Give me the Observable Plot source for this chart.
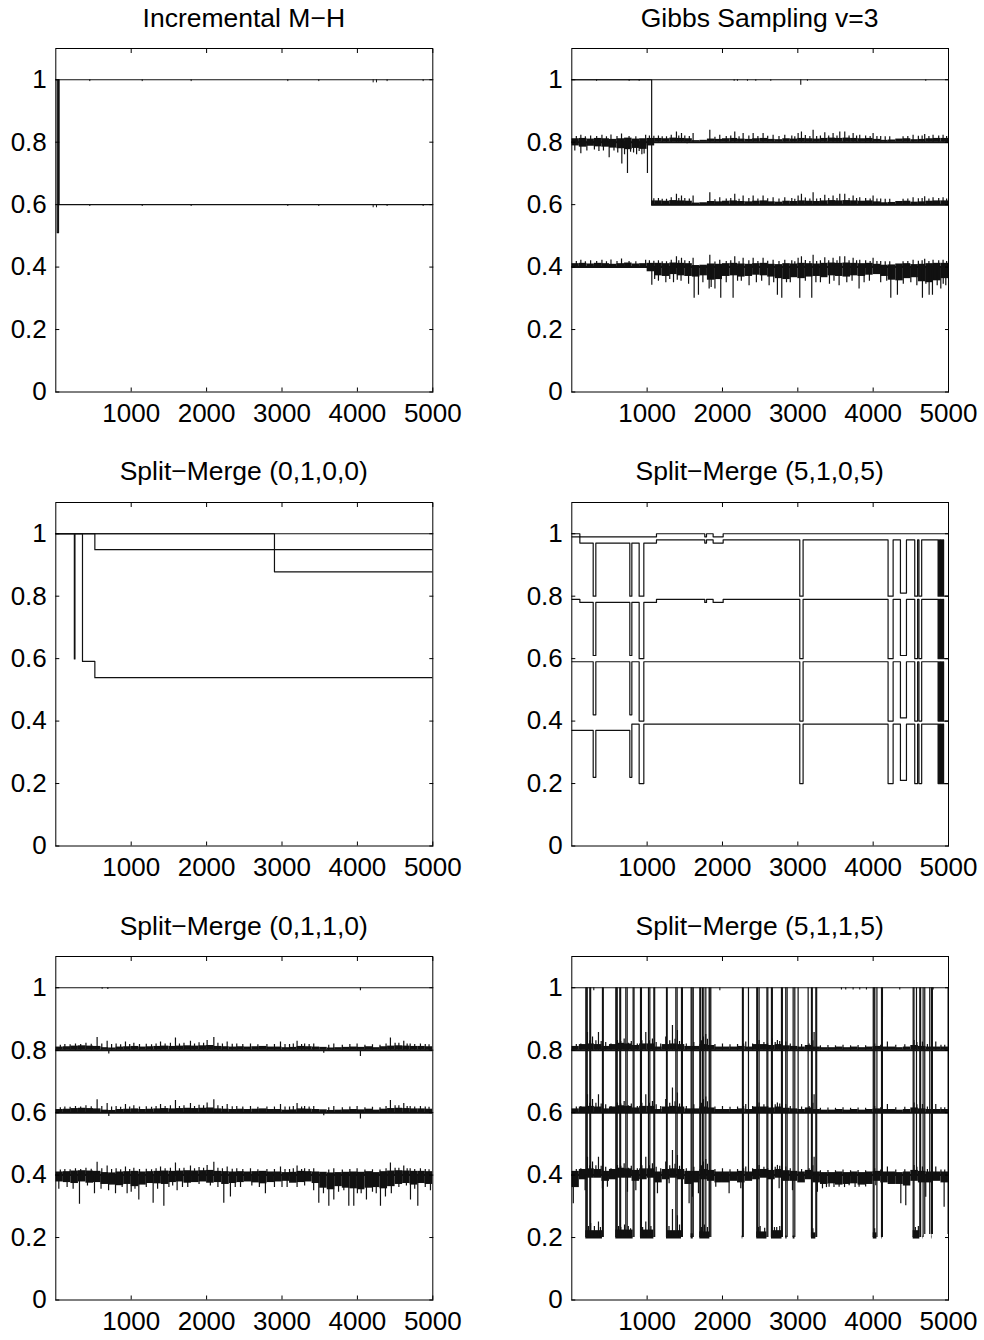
<!DOCTYPE html>
<html><head><meta charset="utf-8">
<script src="https://cdn.jsdelivr.net/npm/d3@7"></script>
<script src="https://cdn.jsdelivr.net/npm/@observablehq/plot@0.6"></script>
<style>
html,body{margin:0;padding:0;background:#fff;}
#page{position:relative;width:984px;height:1340px;overflow:hidden;background:#fff;font-family:"Liberation Sans",Arial,Helvetica,sans-serif;}
.title{position:absolute;font-size:26.5px;line-height:26.5px;text-align:center;color:#000;white-space:nowrap;}
.panel{position:absolute;width:492px;}
</style></head>
<body><div id="page"></div>
<script>
// ---------- axis / titles ----------
const xTicks = [1000, 2000, 3000, 4000, 5000];
const yTicks = [0, 0.2, 0.4, 0.6, 0.8, 1];
const panelTitles = ["Incremental M\u2212H", "Gibbs Sampling v=3", "Split\u2212Merge (0,1,0,0)", "Split\u2212Merge (5,1,0,5)", "Split\u2212Merge (0,1,1,0)", "Split\u2212Merge (5,1,1,5)"];

// ---------- Incremental M-H ----------
const mhSeriesA = [[0, 1], [5000, 1]];
const mhSeriesB = [[0, 1], [19, 0.51], [36, 1], [44, 0.6], [5000, 0.6]];
const mhDips = [[451, 0.006], [1146, 0.006], [1795, 0.006], [3077, 0.006], [3488, 0.006], [4209, 0.01], [4253, 0.01], [4394, 0.006], [4872, 0.006]];

// ---------- Gibbs Sampling v=3 ----------
const gibbsTop = [[0, 1], [5000, 1]];
const gibbsSwitch = [[0, 1], [1060, 0.6], [5000, 0.6]];
const gibbsTopDips = [[328, 0.995], [761, 0.995], [894, 0.995], [2155, 0.995], [2199, 0.995], [2332, 0.995], [2442, 0.995], [2641, 0.995], [3039, 0.982], [3128, 0.995], [4698, 0.995]];
const gibbsUpCore = [
  0.011, 0.012, 0.010, 0.012, 0.011, 0.009, 0.011, 0.013, 0.010, 0.011,
  0.012, 0.012, 0.011, 0.013, 0.012, 0.011, 0.005, 0.006, 0.010, 0.009,
  0.011, 0.012, 0.010, 0.009, 0.011, 0.012, 0.009, 0.008, 0.011, 0.010,
  0.012, 0.011, 0.010, 0.012, 0.013, 0.012, 0.013, 0.012, 0.011, 0.012,
  0.009, 0.006, 0.007, 0.010, 0.011, 0.008, 0.009, 0.011, 0.012, 0.012];
const gibbsUpSpikes = [[60, 0.018], [120, 0.022], [180, 0.017], [250, 0.02], [330, 0.018], [400, 0.022], [460, 0.017], [520, 0.023], [600, 0.018], [660, 0.026], [760, 0.018], [850, 0.017], [980, 0.022], [1030, 0.02],
  [1089, 0.019], [1150, 0.02], [1200, 0.017], [1257, 0.017], [1320, 0.022], [1389, 0.033], [1420, 0.02], [1456, 0.028], [1500, 0.02], [1560, 0.018], [1610, 0.028], [1832, 0.038],
  [1900, 0.016], [1964, 0.022], [2050, 0.018], [2110, 0.02], [2163, 0.033], [2220, 0.017], [2274, 0.028], [2350, 0.02], [2407, 0.028], [2470, 0.018], [2539, 0.028], [2600, 0.019], [2672, 0.022],
  [2750, 0.018], [2827, 0.022], [2920, 0.02], [2960, 0.017], [3004, 0.028], [3048, 0.033], [3100, 0.021], [3160, 0.018], [3203, 0.038], [3250, 0.018], [3300, 0.02], [3358, 0.03], [3410, 0.02], [3468, 0.028],
  [3520, 0.02], [3557, 0.033], [3623, 0.033], [3680, 0.02], [3734, 0.028], [3780, 0.02], [3822, 0.022], [3900, 0.02], [3960, 0.018], [3999, 0.028], [4050, 0.018], [4100, 0.018], [4160, 0.017], [4220, 0.017], [4397, 0.017],
  [4460, 0.018], [4530, 0.022], [4600, 0.019], [4650, 0.02], [4684, 0.025], [4740, 0.018], [4795, 0.022], [4870, 0.02], [4928, 0.022], [4975, 0.018]];
const gibbs80EarlyLo = [0.788, 0.784, 0.787, 0.785, 0.784, 0.781, 0.779, 0.776, 0.780, 0.777, 0.788];
const gibbs80DownSpikes = [[40, 0.772], [120, 0.763], [200, 0.772], [300, 0.775], [360, 0.77], [420, 0.772], [496, 0.75], [560, 0.772], [610, 0.765], [664, 0.73], [700, 0.76], [739, 0.70], [780, 0.768], [820, 0.765], [860, 0.76], [894, 0.77], [930, 0.76], [960, 0.762], [1004, 0.70], [1530, 0.795], [2700, 0.796], [3600, 0.796]];
const gibbs40Lo = [
  0.399, 0.399, 0.399, 0.399, 0.399, 0.399, 0.399, 0.399, 0.399, 0.399,
  0.385, 0.372, 0.370, 0.376, 0.372, 0.370, 0.368, 0.372, 0.358, 0.360,
  0.370, 0.372, 0.368, 0.370, 0.374, 0.372, 0.368, 0.363, 0.360, 0.366,
  0.363, 0.368, 0.370, 0.366, 0.372, 0.370, 0.368, 0.372, 0.370, 0.374,
  0.376, 0.370, 0.358, 0.356, 0.363, 0.366, 0.353, 0.350, 0.356, 0.363];
const gibbs40DownSpikes = [[1062, 0.342], [1100, 0.36], [1150, 0.355], [1248, 0.35], [1300, 0.36], [1350, 0.35], [1400, 0.358], [1450, 0.355], [1550, 0.345], [1624, 0.30], [1681, 0.31],
  [1740, 0.35], [1823, 0.33], [1850, 0.335], [1900, 0.33], [1977, 0.30], [2050, 0.35], [2141, 0.30], [2200, 0.355], [2250, 0.355], [2353, 0.34], [2450, 0.35],
  [2520, 0.355], [2619, 0.34], [2680, 0.35], [2729, 0.31], [2787, 0.30], [2850, 0.35], [2900, 0.35], [3026, 0.30], [3100, 0.355], [3185, 0.30], [3240, 0.35], [3300, 0.35], [3420, 0.345],
  [3480, 0.355], [3548, 0.34], [3650, 0.35], [3720, 0.355], [3813, 0.33], [3880, 0.35], [3950, 0.355], [4100, 0.35], [4180, 0.355], [4234, 0.30], [4322, 0.31], [4400, 0.345], [4500, 0.35],
  [4580, 0.34], [4654, 0.30], [4700, 0.345], [4743, 0.31], [4787, 0.31], [4850, 0.34], [4898, 0.33], [4930, 0.345], [4964, 0.34]];

// ---------- Split-Merge (0,1,0,0) ----------
const sm0100A = [[0, 1], [5000, 1]];
const sm0100B = [[0, 1], [2900, 0.878], [5000, 0.878]];
const sm0100C = [[0, 1], [518, 0.949], [5000, 0.949]];
const sm0100D = [[0, 1], [246, 0.599], [254, 1], [354, 0.591], [518, 0.539], [5000, 0.539]];

// ---------- Split-Merge (5,1,0,5) ----------
const sm5105U = [[0, 1], [107, 0.99], [1124, 1], [1765, 0.99], [1788, 1], [1876, 0.99], [2009, 1], [5000, 1]];
const sm5105L = [[0, 0.99], [107, 0.97], [284, 0.80], [319, 0.97], [770, 0.80], [797, 0.97], [894, 0.80], [956, 0.97], [1124, 0.98],
  [1765, 0.97], [1788, 0.98], [1876, 0.97], [2009, 0.98], [3026, 0.80], [3070, 0.98], [4198, 0.80], [4265, 0.98], [4362, 0.81],
  [4442, 0.98], [4552, 0.80], [4590, 0.98], [4608, 0.80], [4644, 0.98], [4862, 0.80], [4870, 0.98], [4880, 0.80], [4890, 0.98],
  [4900, 0.80], [4910, 0.98], [4918, 0.80], [4928, 0.98], [4935, 0.80], [5000, 0.80]];
const sm5105M1 = [[0, 0.79], [107, 0.78], [284, 0.61], [319, 0.78], [770, 0.61], [797, 0.78], [894, 0.60], [956, 0.78], [1124, 0.79],
  [1765, 0.78], [1788, 0.79], [1876, 0.78], [2009, 0.79], [3026, 0.60], [3070, 0.79], [4198, 0.60], [4265, 0.79], [4362, 0.61],
  [4442, 0.79], [4552, 0.60], [4590, 0.79], [4608, 0.60], [4644, 0.79], [4862, 0.60], [4870, 0.79], [4880, 0.60], [4890, 0.79],
  [4900, 0.60], [4910, 0.79], [4918, 0.60], [4928, 0.79], [4935, 0.60], [5000, 0.60]];
const sm5105M2 = [[0, 0.59], [284, 0.42], [319, 0.59], [770, 0.42], [797, 0.59], [894, 0.40], [956, 0.59], [3026, 0.40], [3070, 0.59],
  [4198, 0.40], [4265, 0.59], [4362, 0.41], [4442, 0.59], [4552, 0.40], [4590, 0.59], [4608, 0.40], [4644, 0.59], [4862, 0.40],
  [4870, 0.59], [4880, 0.40], [4890, 0.59], [4900, 0.40], [4910, 0.59], [4918, 0.40], [4928, 0.59], [4935, 0.40], [5000, 0.40]];
const sm5105B = [[0, 0.37], [284, 0.22], [319, 0.37], [770, 0.22], [797, 0.39], [894, 0.20], [956, 0.39], [3026, 0.20], [3070, 0.39],
  [4198, 0.20], [4265, 0.39], [4362, 0.21], [4442, 0.39], [4552, 0.20], [4590, 0.39], [4608, 0.20], [4644, 0.39], [4862, 0.20],
  [4870, 0.39], [4880, 0.20], [4890, 0.39], [4900, 0.20], [4910, 0.39], [4918, 0.20], [4928, 0.39], [4935, 0.20], [5000, 0.20]];

// ---------- Split-Merge (0,1,1,0) ----------
const sm0110Top = [[0, 1], [5000, 1]];
const sm0110TopDips = [[615, 0.995], [690, 0.994], [4040, 0.99]];
const sm0110UpCore = [
  0.010, 0.011, 0.013, 0.014, 0.013, 0.012, 0.008, 0.007, 0.010, 0.011,
  0.012, 0.010, 0.011, 0.012, 0.013, 0.012, 0.013, 0.014, 0.013, 0.014,
  0.015, 0.012, 0.011, 0.010, 0.011, 0.010, 0.011, 0.012, 0.010, 0.010,
  0.008, 0.009, 0.012, 0.011, 0.010, 0.009, 0.007, 0.008, 0.009, 0.010,
  0.009, 0.011, 0.008, 0.011, 0.013, 0.014, 0.013, 0.012, 0.012, 0.011];
const sm0110UpSpikes = [[60, 0.016], [120, 0.018], [190, 0.017], [261, 0.02], [330, 0.018], [400, 0.022], [470, 0.019], [548, 0.041], [610, 0.02], [681, 0.029], [740, 0.018], [800, 0.02], [860, 0.017], [924, 0.026], [980, 0.018], [1035, 0.022],
  [1110, 0.018], [1200, 0.019], [1270, 0.017], [1330, 0.02], [1389, 0.026], [1450, 0.02], [1520, 0.022], [1587, 0.039], [1640, 0.02], [1700, 0.022], [1786, 0.029], [1840, 0.02], [1900, 0.024], [1960, 0.022], [2007, 0.031], [2096, 0.041], [2150, 0.022],
  [2210, 0.02], [2273, 0.026], [2340, 0.019], [2400, 0.02], [2480, 0.018], [2582, 0.02], [2680, 0.017], [2800, 0.018], [2900, 0.018], [2980, 0.026], [3040, 0.018], [3100, 0.018], [3150, 0.02], [3200, 0.029], [3260, 0.018], [3300, 0.02], [3360, 0.018], [3421, 0.02],
  [3620, 0.016], [3687, 0.02], [3800, 0.016], [3900, 0.018], [3996, 0.02], [4100, 0.016], [4200, 0.017], [4300, 0.016], [4380, 0.02], [4438, 0.039], [4500, 0.022], [4550, 0.022], [4615, 0.029], [4660, 0.02], [4700, 0.02], [4760, 0.018], [4836, 0.02], [4900, 0.018], [4950, 0.017]];
const sm0110SmallDips = [[703, 0.012], [3554, 0.01], [4040, 0.02]];
const sm0110Lo = [
  0.378, 0.376, 0.373, 0.378, 0.374, 0.376, 0.370, 0.368, 0.366, 0.370,
  0.363, 0.368, 0.373, 0.372, 0.370, 0.376, 0.378, 0.374, 0.376, 0.378,
  0.374, 0.376, 0.370, 0.373, 0.376, 0.378, 0.375, 0.372, 0.376, 0.378,
  0.380, 0.374, 0.376, 0.378, 0.373, 0.358, 0.353, 0.363, 0.358, 0.356,
  0.353, 0.358, 0.360, 0.356, 0.363, 0.370, 0.373, 0.368, 0.373, 0.370];
const sm0110DownSpikes = [[40, 0.355], [150, 0.36], [230, 0.355], [314, 0.307], [420, 0.365], [513, 0.34], [600, 0.355], [700, 0.35], [792, 0.34], [880, 0.36],
  [946, 0.34], [1000, 0.345], [1050, 0.355], [1101, 0.32], [1200, 0.36], [1291, 0.31], [1350, 0.355], [1433, 0.30], [1500, 0.36], [1550, 0.365], [1609, 0.35],
  [1680, 0.36], [1750, 0.36], [1900, 0.37], [2050, 0.365], [2150, 0.36], [2228, 0.31], [2316, 0.33], [2380, 0.36], [2450, 0.36], [2600, 0.365], [2700, 0.36], [2780, 0.34], [2900, 0.36],
  [3000, 0.36], [3068, 0.36], [3200, 0.36], [3300, 0.365], [3420, 0.35], [3488, 0.31], [3550, 0.34], [3621, 0.30], [3687, 0.32], [3750, 0.345], [3820, 0.35], [3886, 0.30],
  [3952, 0.30], [4000, 0.34], [4050, 0.34], [4120, 0.32], [4200, 0.345], [4250, 0.34], [4306, 0.30], [4372, 0.33], [4450, 0.34], [4550, 0.36], [4650, 0.365],
  [4704, 0.32], [4760, 0.355], [4801, 0.30], [4900, 0.36], [4969, 0.35]];

// ---------- Split-Merge (5,1,1,5) ----------
const sm5115Top = [[0, 1], [5000, 1]];
const sm5115TopDips = [[292, 0.99], [1965, 0.99], [3579, 0.993], [3636, 0.993], [3734, 0.993], [3822, 0.993], [3911, 0.993], [4353, 0.993], [4796, 0.993]];
const sm5115Switches = [[186, 0.2], [198, 0.2], [204, 0.2], [239, 0.2], [250, 0.2], [407, 0.2], [418, 0.2], [584, 0.2], [596, 0.2], [602, 0.2],
  [637, 0.2], [648, 0.2], [717, 0.2], [735, 0.2], [814, 0.2], [826, 0.2], [912, 0.2], [924, 0.2], [1018, 0.2], [1036, 0.2], [1089, 0.2], [1100, 0.2],
  [1257, 0.2], [1266, 0.2], [1381, 0.2], [1398, 0.2], [1456, 0.2], [1468, 0.2], [1584, 0.2], [1596, 0.2], [1612, 0.2], [1699, 0.2], [1710, 0.2],
  [1734, 0.2], [1752, 0.2], [1779, 0.2], [1823, 0.2], [1832, 0.2], [1845, 0.2], [2265, 0.2], [2276, 0.2], [2345, 0.4], [2455, 0.2], [2466, 0.2],
  [2486, 0.2], [2590, 0.2], [2602, 0.2], [2650, 0.2], [2662, 0.2], [2783, 0.2], [2795, 0.2], [2840, 0.2], [2858, 0.2], [2938, 0.2], [2960, 0.2],
  [3004, 0.4], [3137, 0.4], [3181, 0.2], [3192, 0.2], [3239, 0.2], [3250, 0.2], [4001, 0.2], [4012, 0.2], [4022, 0.4], [4050, 0.2], [4111, 0.2],
  [4123, 0.2], [4531, 0.2], [4542, 0.2], [4575, 0.4], [4619, 0.2], [4630, 0.2], [4663, 0.2], [4685, 0.21], [4751, 0.21], [4774, 0.21], [4786, 0.21], [4995, 0.21]];
const sm5115UpCore = [
  0.012, 0.018, 0.020, 0.018, 0.012, 0.018, 0.022, 0.020, 0.015, 0.020,
  0.020, 0.010, 0.018, 0.020, 0.018, 0.012, 0.012, 0.018, 0.015, 0.010,
  0.010, 0.010, 0.012, 0.010, 0.018, 0.018, 0.015, 0.018, 0.014, 0.012,
  0.010, 0.015, 0.010, 0.008, 0.008, 0.010, 0.008, 0.010, 0.008, 0.010,
  0.012, 0.010, 0.010, 0.008, 0.010, 0.015, 0.012, 0.010, 0.010, 0.010];
const sm5115UpSpikes = [[60, 0.018], [120, 0.02], [208, 0.057], [240, 0.03], [275, 0.042], [320, 0.03], [354, 0.057], [390, 0.028], [450, 0.025], [520, 0.02], [606, 0.031], [650, 0.028], [695, 0.036],
  [750, 0.022], [790, 0.028], [870, 0.02], [930, 0.03], [982, 0.057], [1030, 0.03], [1070, 0.036], [1120, 0.025], [1180, 0.02], [1247, 0.042], [1300, 0.03], [1336, 0.079], [1370, 0.035], [1402, 0.063],
  [1430, 0.028], [1520, 0.02], [1620, 0.025], [1720, 0.03], [1747, 0.042], [1778, 0.05], [1800, 0.035], [1900, 0.018], [2000, 0.02], [2100, 0.017], [2200, 0.018], [2280, 0.02], [2309, 0.026], [2400, 0.02], [2486, 0.031], [2550, 0.025],
  [2600, 0.02], [2663, 0.036], [2700, 0.025], [2729, 0.031], [2760, 0.028], [2840, 0.026], [2900, 0.02], [3050, 0.018], [3150, 0.02], [3200, 0.03], [3216, 0.057], [3300, 0.014], [3400, 0.015], [3500, 0.014], [3600, 0.016], [3700, 0.014],
  [3800, 0.015], [3900, 0.014], [4020, 0.02], [4100, 0.016], [4189, 0.026], [4300, 0.016], [4420, 0.017], [4543, 0.031], [4580, 0.025], [4654, 0.026], [4720, 0.018], [4831, 0.026], [4900, 0.016], [4950, 0.016]];
const sm5115Lo = [
  0.360, 0.385, 0.390, 0.390, 0.380, 0.385, 0.390, 0.390, 0.380, 0.385,
  0.390, 0.375, 0.385, 0.390, 0.385, 0.370, 0.375, 0.385, 0.380, 0.375,
  0.375, 0.380, 0.375, 0.380, 0.385, 0.390, 0.385, 0.390, 0.380, 0.380,
  0.375, 0.385, 0.375, 0.370, 0.372, 0.368, 0.370, 0.372, 0.368, 0.370,
  0.380, 0.375, 0.370, 0.370, 0.365, 0.380, 0.375, 0.375, 0.380, 0.375];
const sm5115DownSpikes = [[20, 0.308], [177, 0.35], [407, 0.356], [473, 0.361], [739, 0.345], [850, 0.35], [1137, 0.34], [1292, 0.372],
  [1557, 0.308], [1601, 0.329], [1681, 0.34], [1911, 0.361], [2088, 0.34], [2243, 0.356], [2752, 0.356], [2929, 0.35], [3260, 0.345],
  [3327, 0.356], [3380, 0.36], [3415, 0.361], [3480, 0.36], [3548, 0.361], [3620, 0.36], [3681, 0.366], [3760, 0.36], [3813, 0.361], [3900, 0.362], [4035, 0.366], [4367, 0.308], [4433, 0.302], [4698, 0.329], [4942, 0.297]];
const sm5115Low = [[186, 407, 0.222], [584, 814, 0.224], [912, 1089, 0.224], [1257, 1456, 0.222], [1584, 1612, 0.212], [1699, 1832, 0.218],
  [2262, 2270, 0.205], [2455, 2590, 0.218], [2650, 2790, 0.222], [2840, 2858, 0.205], [2938, 2962, 0.205], [3181, 3239, 0.215],
  [4001, 4050, 0.215], [4111, 4118, 0.205], [4531, 4619, 0.222], [4663, 4668, 0.205], [4774, 4780, 0.21]];
const sm5115LowSpikes = [[220, 0.235], [250, 0.245], [300, 0.235], [354, 0.25], [380, 0.232], [620, 0.235], [650, 0.232], [700, 0.24], [750, 0.235], [780, 0.228], [940, 0.232], [982, 0.25], [1050, 0.235],
  [1290, 0.235], [1336, 0.29], [1402, 0.27], [1430, 0.24], [1720, 0.232], [1760, 0.24], [1800, 0.232], [2480, 0.232], [2500, 0.235], [2560, 0.23], [2690, 0.232], [2720, 0.232], [2760, 0.235], [3200, 0.228], [4020, 0.228], [4560, 0.232], [4600, 0.235]];

// ---------- helpers ----------
const INK = "#111";
const X = d => d[0], Y = d => d[1];
const fmtY = d => String(Math.round(d * 10) / 10);
const fmtX = d => String(d);

function stepLine(data) {
  return Plot.line(data, {x: X, y: Y, curve: "step-after", stroke: INK, strokeWidth: 1.2, clip: true});
}
function topDips(data, level) {
  return Plot.ruleX(data, {x: X, y1: level, y2: Y, stroke: INK, strokeWidth: 1.1, clip: true});
}
function band(base, {x0 = 0, x1 = 5000, up, lo, upSpikes = [], downSpikes = [], dips = []}) {
  const cells = up.map((u, k) => ({
    a: Math.max(k * 100, x0), b: Math.min(k * 100 + 100, x1),
    top: base + u, bottom: lo && lo[k] !== undefined ? lo[k] : base
  })).filter(d => d.b > d.a);
  const inRange = d => d[0] >= x0 && d[0] <= x1;
  return [
    Plot.ruleY([base], {x1: x0, x2: x1, stroke: INK, strokeWidth: 2, clip: true}),
    Plot.rect(cells, {x1: "a", x2: "b", y1: "bottom", y2: "top", fill: INK, clip: true}),
    Plot.ruleX(upSpikes.filter(inRange), {x: X, y1: base, y2: d => base + d[1], stroke: INK, strokeWidth: 1.2, clip: true}),
    Plot.ruleX(downSpikes.filter(inRange), {x: X, y1: base, y2: Y, stroke: INK, strokeWidth: 1.2, clip: true}),
    Plot.ruleX(dips.filter(inRange), {x: X, y1: base, y2: d => base - d[1], stroke: INK, strokeWidth: 1.2, clip: true})
  ];
}
function axes() {
  return [
    Plot.frame({stroke: "#000", strokeWidth: 1}),
    Plot.axisX(xTicks, {anchor: "bottom", tickSize: 0, tickPadding: 12, tickFormat: fmtX, label: null}),
    Plot.axisX(xTicks, {anchor: "bottom", tickSize: -4, tickFormat: () => "", label: null}),
    Plot.axisX(xTicks, {anchor: "top", tickSize: -4, tickFormat: () => "", label: null}),
    Plot.axisY(yTicks, {anchor: "left", tickSize: 0, tickPadding: 9, tickFormat: fmtY, label: null}),
    Plot.axisY(yTicks, {anchor: "left", tickSize: -4, tickFormat: () => "", label: null}),
    Plot.axisY(yTicks, {anchor: "right", tickSize: -4, tickFormat: () => "", label: null})
  ];
}

const panelMarks = [
  [stepLine(mhSeriesA), stepLine(mhSeriesB),
   Plot.ruleX(mhDips, {x: X, y1: 1, y2: d => 1 - d[1], stroke: INK, clip: true}),
   Plot.ruleX(mhDips, {x: X, y1: 0.6, y2: d => 0.6 - d[1], stroke: INK, clip: true})],
  [stepLine(gibbsTop), stepLine(gibbsSwitch), topDips(gibbsTopDips, 1),
   ...band(0.8, {up: gibbsUpCore, lo: gibbs80EarlyLo, upSpikes: gibbsUpSpikes, downSpikes: gibbs80DownSpikes}),
   ...band(0.6, {x0: 1060, up: gibbsUpCore, upSpikes: gibbsUpSpikes}),
   ...band(0.4, {up: gibbsUpCore, lo: gibbs40Lo, upSpikes: gibbsUpSpikes, downSpikes: gibbs40DownSpikes})],
  [stepLine(sm0100A), stepLine(sm0100B), stepLine(sm0100C), stepLine(sm0100D)],
  [stepLine(sm5105U), stepLine(sm5105L), stepLine(sm5105M1), stepLine(sm5105M2), stepLine(sm5105B)],
  [stepLine(sm0110Top), topDips(sm0110TopDips, 1),
   ...band(0.8, {up: sm0110UpCore, upSpikes: sm0110UpSpikes, dips: sm0110SmallDips}),
   ...band(0.6, {up: sm0110UpCore, upSpikes: sm0110UpSpikes, dips: sm0110SmallDips}),
   ...band(0.4, {up: sm0110UpCore, lo: sm0110Lo, upSpikes: sm0110UpSpikes, downSpikes: sm0110DownSpikes})],
  [stepLine(sm5115Top), topDips(sm5115TopDips, 1),
   Plot.ruleX(sm5115Switches, {x: X, y1: 1, y2: Y, stroke: INK, strokeWidth: 1.2, clip: true}),
   ...band(0.8, {up: sm5115UpCore, upSpikes: sm5115UpSpikes}),
   ...band(0.6, {up: sm5115UpCore, upSpikes: sm5115UpSpikes}),
   ...band(0.4, {up: sm5115UpCore, lo: sm5115Lo, upSpikes: sm5115UpSpikes, downSpikes: sm5115DownSpikes}),
   Plot.ruleY(sm5115Low, {y: 0.2, x1: d => d[0], x2: d => d[1], stroke: INK, strokeWidth: 2, clip: true}),
   Plot.rect(sm5115Low, {x1: d => d[0], x2: d => d[1], y1: 0.2, y2: d => d[2], fill: INK, clip: true}),
   Plot.ruleX(sm5115LowSpikes, {x: X, y1: 0.2, y2: Y, stroke: INK, strokeWidth: 1.2, clip: true})]
];

// ---------- layout ----------
const colLeft = [0, 492];
const mLeft = [55.3, 79.3];
const mRight = [59.7, 36];
const frameTop = [48.3, 501.7, 956];
const frameH = 343.5;
const page = document.getElementById("page");

panelMarks.forEach((marks, i) => {
  const r = Math.floor(i / 2), c = i % 2;
  const chart = Plot.plot({
    width: 492,
    height: 10 + frameH + 40,
    marginTop: 10, marginBottom: 40,
    marginLeft: mLeft[c], marginRight: mRight[c],
    x: {domain: [0, 5000]},
    y: {domain: [0, 1.1]},
    style: {fontFamily: '"Liberation Sans", Arial, Helvetica, sans-serif', fontSize: "26px", color: "#000", background: "#fff", overflow: "visible"},
    marks: [...marks, ...axes()]
  });
  const holder = document.createElement("div");
  holder.className = "panel";
  holder.style.left = colLeft[c] + "px";
  holder.style.top = (frameTop[r] - 10) + "px";
  holder.appendChild(chart);
  page.appendChild(holder);

  const t = document.createElement("div");
  t.className = "title";
  t.textContent = panelTitles[i];
  t.style.left = (colLeft[c] + mLeft[c]) + "px";
  t.style.width = (492 - mLeft[c] - mRight[c]) + "px";
  t.style.top = (frameTop[r] - 43.4) + "px";
  page.appendChild(t);
});
</script>
</body></html>
